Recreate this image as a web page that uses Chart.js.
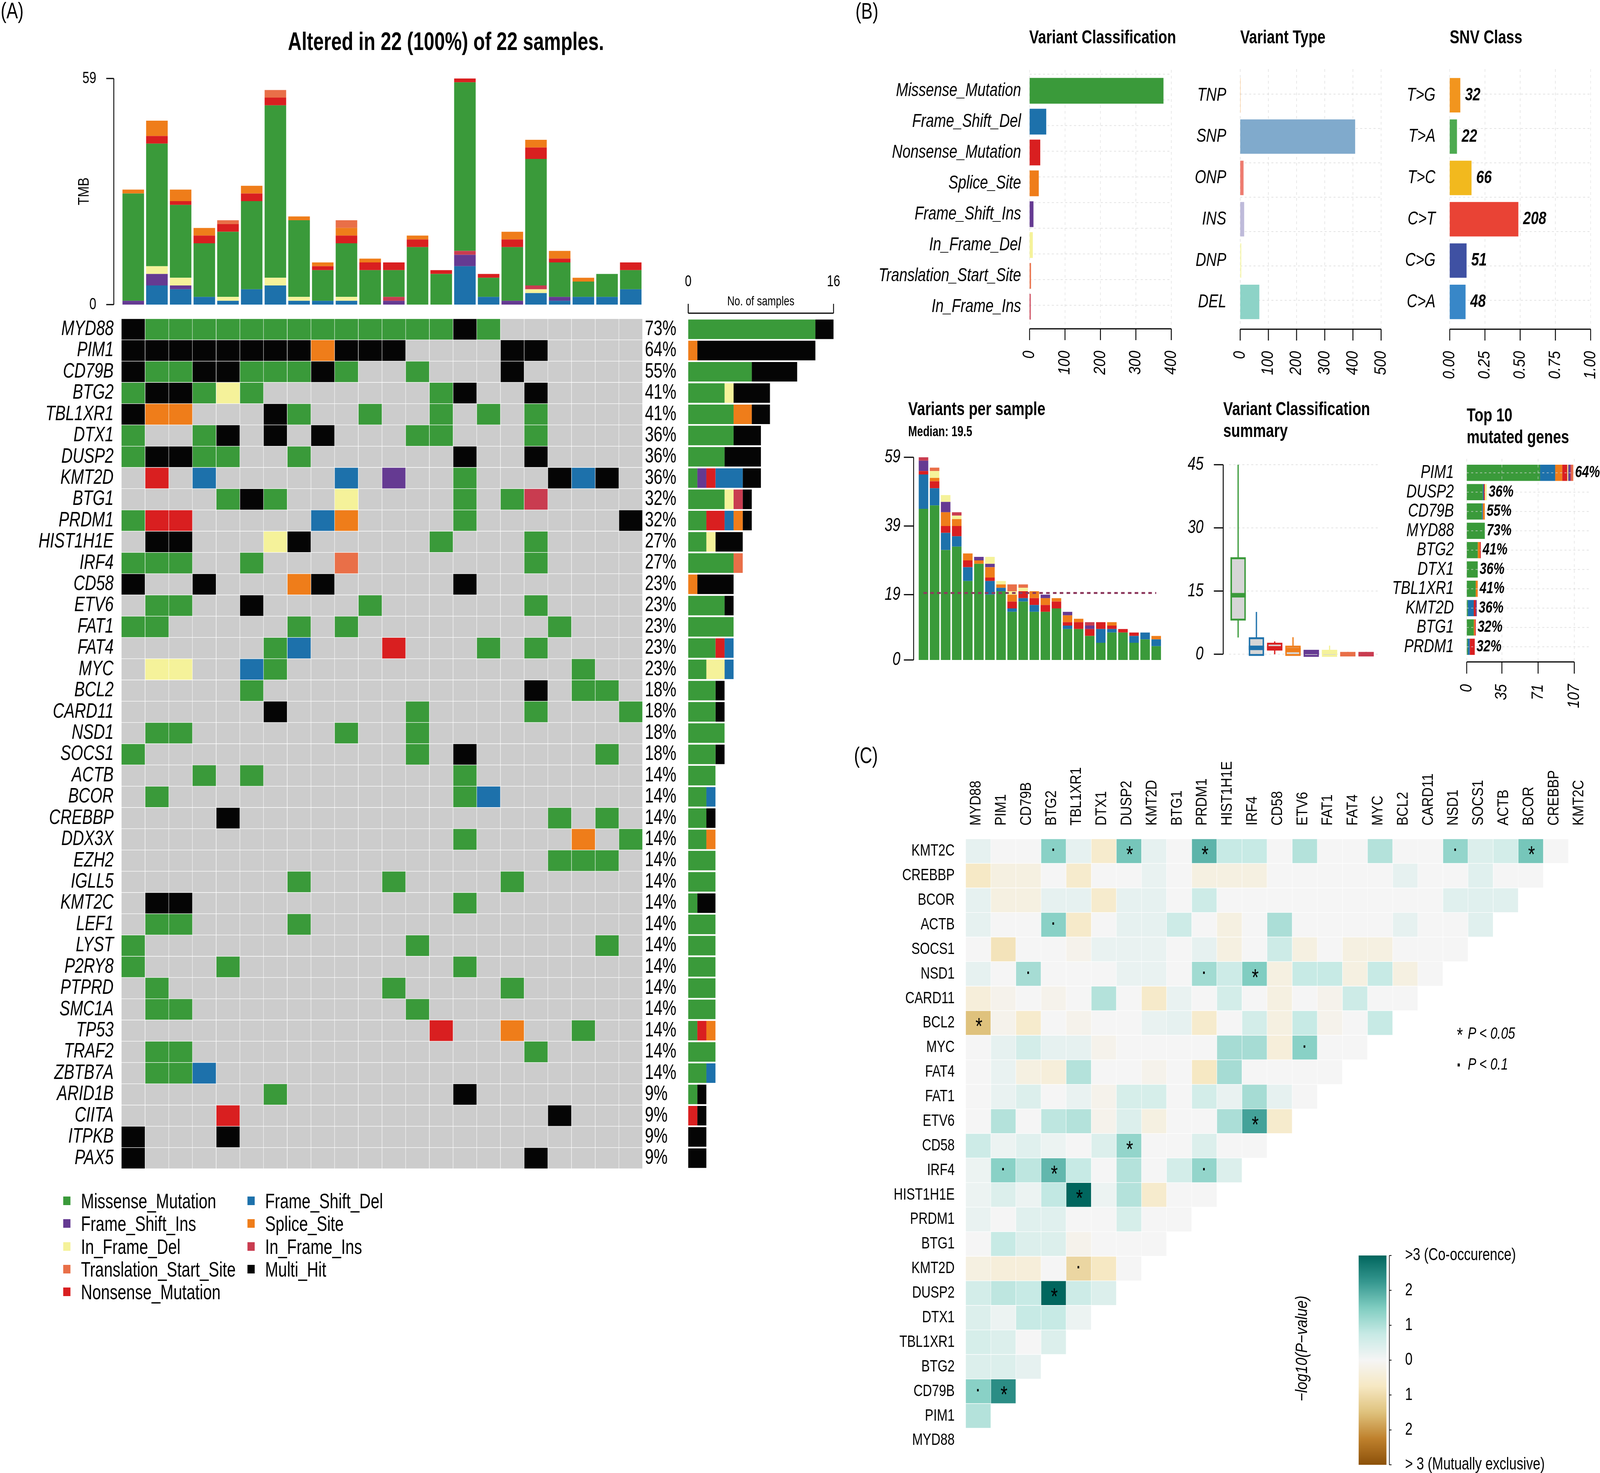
<!DOCTYPE html>
<html>
<head>
<meta charset="utf-8">
<script src="https://cdn.jsdelivr.net/npm/chart.js@4"></script>
<style>
html, body { margin: 0; padding: 0; background: #fff; overflow: hidden; }
#stage { position: absolute; left: 0; top: 0; width: 4429px; height: 3772px; transform-origin: 0 0; }
canvas { position: absolute; transform-origin: 0 0; }
.t { position: absolute; white-space: nowrap; color: #000; font-family: "Liberation Sans"; transform: translateY(-50%) scaleX(0.82); transform-origin: 0 50%; }
.c { transform: translate(-50%, -50%) scaleX(0.82); transform-origin: 50% 50%; }
.r { transform: translate(-50%, -50%) rotate(-90deg) scaleX(0.82); transform-origin: 50% 50%; }
.sq { position: absolute; width: 20px; height: 22px; }
</style>
</head>
<body>
<div id="stage"></div>
<script>
const sans = '"Liberation Sans"'
const SQ = 0.82 // the reference font is a narrow one, so every canvas is squeezed sideways
const sx = v => v / SQ

const genes = ['MYD88', 'PIM1', 'CD79B', 'BTG2', 'TBL1XR1', 'DTX1', 'DUSP2', 'KMT2D', 'BTG1', 'PRDM1', 'HIST1H1E', 'IRF4', 'CD58', 'ETV6', 'FAT1', 'FAT4', 'MYC', 'BCL2', 'CARD11', 'NSD1', 'SOCS1', 'ACTB', 'BCOR', 'CREBBP', 'DDX3X', 'EZH2', 'IGLL5', 'KMT2C', 'LEF1', 'LYST', 'P2RY8', 'PTPRD', 'SMC1A', 'TP53', 'TRAF2', 'ZBTB7A', 'ARID1B', 'CIITA', 'ITPKB', 'PAX5']
const genePct = ['73%', '64%', '55%', '41%', '41%', '36%', '36%', '36%', '32%', '32%', '27%', '27%', '23%', '23%', '23%', '23%', '23%', '18%', '18%', '18%', '18%', '14%', '14%', '14%', '14%', '14%', '14%', '14%', '14%', '14%', '14%', '14%', '14%', '14%', '14%', '14%', '9%', '9%', '9%', '9%']
// M missense, S frame del, I frame ins, Y inframe del, T translation start, N nonsense, P splice, F inframe ins, X multi hit
const onco = [
  'XMMMMMMMMMMMMMXM......',
  'XXXXXXXXPXXX....XX....',
  'XMMXXMMMXM..M...X.....',
  'MXXMYM.......MX..X....',
  'XPP...XM..M..M.M.M....',
  'M..MX.X.X...MM...M....',
  'MXXMM..M......X..X....',
  '.N.S.....S.I..M...XSX.',
  '....MXM..Y....M.MF....',
  'MNN.....SP....M......X',
  '.XX...YX.....M...M....',
  'MMM..M...T.......M....',
  'X..X...PX.....X.......',
  '.MM..X....M......M....',
  'MM.....M.M........M...',
  '......MS...N...M.M....',
  '.YY..SM............M..',
  '.....M...........X.MM.',
  '......X.....M....M...M',
  '.MM......M..M.........',
  'M...........M.X.....M.',
  '...M.M........M.......',
  '.M............MS......',
  '....X.............M.M.',
  '..............M....P.M',
  '..................MMM.',
  '.......M...M....M.....',
  '.XX...........M.......',
  '.MM....M..............',
  'M...........M.......M.',
  'M...M.........M.......',
  '.M.........M....M.....',
  '.MM.........M.........',
  '.............N..P..M..',
  '.MM..............M....',
  '.MMS..................',
  '......M.......X.......',
  '....N.............X...',
  'X...X.................',
  'X................X....',
]
const sampleIds = onco[0].split('').map((_, i) => 'S' + (i + 1))
const colors = { M: '#3A9A3A', S: '#1D71AB', I: '#653A92', Y: '#F5F29A', T: '#E96F48', N: '#D91F20', P: '#EF7D1A', F: '#C93C50', X: '#050505', '.': '#CCCCCC' }

const tmbS = [0, 5, 4, 2, 1, 4, 5, 1, 1, 1, 0, 0, 0, 0, 10, 2, 0, 3, 1, 2, 2, 4]
const tmbI = [1, 3, 1, 0, 0, 0, 0, 0, 0, 0, 0, 1, 0, 0, 3, 0, 1, 0, 1, 0, 0, 0]
const tmbY = [0, 2, 2, 0, 1, 0, 2, 1, 0, 1, 0, 0, 0, 0, 0, 0, 0, 1, 0, 0, 0, 0]
const tmbF = [0, 0, 0, 0, 0, 0, 0, 0, 0, 0, 0, 1, 0, 0, 1, 0, 0, 1, 0, 0, 0, 0]
const tmbM = [28, 32, 19, 14, 17, 23, 45, 20, 8, 14, 9, 7, 15, 8, 44, 5, 14, 33, 9, 4, 6, 5]
const tmbN = [0, 2, 1, 2, 2, 2, 2, 0, 1, 2, 2, 2, 2, 1, 1, 1, 2, 3, 1, 0, 0, 2]
const tmbP = [1, 4, 3, 2, 0, 2, 0, 1, 1, 2, 1, 0, 1, 0, 0, 0, 2, 2, 2, 1, 0, 0]
const tmbT = [0, 0, 0, 0, 1, 0, 2, 0, 0, 2, 0, 0, 0, 0, 0, 0, 0, 0, 0, 0, 0, 0]
const tmbTicks = [0, 59]
const sideOrder = ['M', 'I', 'Y', 'T', 'N', 'S', 'P', 'F', 'X']
const sideTicks = [0, 16]

const vcNames = ['Missense_Mutation', 'Frame_Shift_Del', 'Nonsense_Mutation', 'Splice_Site', 'Frame_Shift_Ins', 'In_Frame_Del', 'Translation_Start_Site', 'In_Frame_Ins']
const vcCodes = ['M', 'S', 'N', 'P', 'I', 'Y', 'T', 'F']
const vcCounts = [378, 47, 30, 26, 11, 9, 4, 3]
const vcTicks = [0, 100, 200, 300, 400]

const vtNames = ['TNP', 'SNP', 'ONP', 'INS', 'DNP', 'DEL']
const vtCounts = [1, 408, 12, 14, 4, 68]
const vtColors = ['#FDB462', '#80AACC', '#EE7C70', '#BEBADA', '#F7F7B0', '#8DD3C7']
const vtTicks = [0, 100, 200, 300, 400, 500]

const snvNames = ['T>G', 'T>A', 'T>C', 'C>T', 'C>G', 'C>A']
const snvCounts = [32, 22, 66, 208, 51, 48]
const snvColors = ['#F2951E', '#4DAA50', '#F2B91E', '#E94335', '#3F51A3', '#3887C8']
const snvTicks = [0, 0.25, 0.5, 0.75, 1]

const perM = [44, 45, 32, 33, 23, 28, 19, 20, 14, 17, 14, 14, 15, 9, 9, 7, 5, 8, 8, 5, 6, 4]
const perS = [10, 5, 5, 3, 4, 0, 4, 1, 1, 1, 2, 0, 0, 1, 0, 0, 4, 1, 0, 2, 2, 2]
const perN = [1, 2, 2, 3, 2, 0, 1, 0, 2, 2, 2, 2, 2, 1, 2, 2, 2, 1, 1, 1, 0, 0]
const perP = [0, 1, 4, 2, 2, 1, 3, 1, 2, 0, 2, 2, 1, 2, 1, 0, 0, 1, 0, 0, 0, 1]
const perI = [3, 0, 3, 0, 0, 1, 1, 0, 0, 0, 0, 1, 0, 1, 0, 1, 0, 0, 0, 0, 0, 0]
const perY = [0, 2, 2, 1, 0, 0, 2, 1, 1, 1, 0, 0, 0, 0, 0, 0, 0, 0, 0, 0, 0, 0]
const perT = [0, 1, 0, 0, 0, 0, 0, 0, 2, 1, 0, 0, 0, 0, 0, 0, 0, 0, 0, 0, 0, 0]
const perF = [1, 0, 0, 1, 0, 0, 0, 0, 0, 0, 0, 0, 0, 0, 0, 1, 0, 0, 0, 0, 0, 0]
const perMedian = 19.5
const perTicks = [0, 19, 39, 59]

const boxWhiskLo = [4, 0, 0, 0, 0, 0, 0, 0]
const boxWhiskHi = [45, 10, 3, 4, 1, 2, 0.5, 0.5]
const boxQ1 = [8, -0.4, 0.9, -0.4, -0.6, -0.6, -0.5, -0.5]
const boxQ3 = [23, 4, 2.7, 2, 1, 1, 0.5, 0.5]
const boxMed = [14, 1.5, 1.4, 1, 0.5, 0.5, 0, 0]
const boxTicks = [0, 15, 30, 45]

const topGenes = ['PIM1', 'DUSP2', 'CD79B', 'MYD88', 'BTG2', 'DTX1', 'TBL1XR1', 'KMT2D', 'BTG1', 'PRDM1']
const topPct = ['64%', '36%', '55%', '73%', '41%', '36%', '41%', '36%', '32%', '32%']
const topM = [73, 16, 15, 18, 11, 11, 9, 1, 7, 1]
const topS = [15, 1, 1, 0, 0, 0, 0, 6, 0, 2]
const topP = [7, 0, 2, 0, 2, 0, 2, 0, 1, 0]
const topN = [5, 1, 0, 0, 1, 0, 0, 2, 1, 5]
const topY = [1, 2, 0, 0, 0, 0, 0, 0, 0, 0]
const topI = [2, 0, 0, 0, 0, 0, 0, 1, 0, 0]
const topF = [1, 0, 0, 0, 0, 0, 0, 0, 0, 0]
const topT = [2, 0, 0, 0, 0, 0, 0, 0, 0, 0]
const topTicks = [0, 35, 71, 107]

const heatCols = ['MYD88', 'PIM1', 'CD79B', 'BTG2', 'TBL1XR1', 'DTX1', 'DUSP2', 'KMT2D', 'BTG1', 'PRDM1', 'HIST1H1E', 'IRF4', 'CD58', 'ETV6', 'FAT1', 'FAT4', 'MYC', 'BCL2', 'CARD11', 'NSD1', 'SOCS1', 'ACTB', 'BCOR', 'CREBBP', 'KMT2C']
const heatRows = ['KMT2C', 'CREBBP', 'BCOR', 'ACTB', 'SOCS1', 'NSD1', 'CARD11', 'BCL2', 'MYC', 'FAT4', 'FAT1', 'ETV6', 'CD58', 'IRF4', 'HIST1H1E', 'PRDM1', 'BTG1', 'KMT2D', 'DUSP2', 'DTX1', 'TBL1XR1', 'BTG2', 'CD79B', 'PIM1', 'MYD88']
// -log10(p), positive co-occurence, negative mutually exclusive
const heatVals = [
  [.25, 0, 0, 1.4, .25, -.6, 1.6, .25, 0, 1.85, .75, .75, 0, .95, 0, 0, .95, 0, 0, 1.3, .4, .55, 1.6, 0],
  [-.7, -.3, -.3, 0, -.6, 0, 0, .2, 0, -.3, -.3, -.3, 0, 0, 0, 0, 0, .25, 0, 0, .35, 0, 0],
  [.25, -.3, -.3, .25, .25, -.6, .25, .25, 0, .65, 0, 0, 0, 0, 0, 0, 0, 0, 0, .35, .35, .35],
  [.25, 0, 0, 1.4, -.65, 0, .25, .25, .65, 0, -.3, 0, 1.05, 0, 0, 0, 0, .25, 0, 0, .35],
  [0, -.85, 0, 0, -.15, .2, .2, .2, 0, .25, -.3, 0, .65, -.3, 0, -.3, -.3, 0, 0, 0],
  [.25, 0, 1.1, 0, 0, 0, .2, .2, 0, 1.15, .65, 1.5, -.3, .75, .75, -.3, .75, -.3, 0],
  [-.4, -.15, 0, -.15, 0, .95, 0, -.65, .2, 0, .55, 0, -.3, 0, -.15, .65, 0, 0],
  [-1.5, -.15, -.6, 0, -.15, 0, 0, .2, .25, -.6, 0, .55, -.3, .75, -.15, 0, .75],
  [0, .25, .55, .25, .25, -.15, 0, 0, 0, 0, 1.1, 1.1, -.4, 1.4, 0, 0],
  [0, .2, -.3, -.4, .95, 0, 0, -.15, 0, -.75, 1.1, 0, 0, 0, 0],
  [0, .2, .4, 0, .2, -.15, .5, .5, 0, .55, .2, 1.1, .25, 0],
  [0, .95, 0, .85, .95, -.15, .4, -.3, 0, 0, 1.05, 2.1, -.6],
  [.65, .15, .35, .15, 0, .4, 1.3, 0, 0, .4, 0, 0],
  [.15, 1.4, .85, 1.8, .75, 0, .95, 0, .55, 1.3, .4],
  [.15, .4, .15, .8, 3, .15, .95, -.6, 0, 0],
  [.2, 0, .35, .35, 0, 0, .5, 0, 0],
  [0, .75, .4, .4, -.15, 0, 0, 0],
  [-.3, -.4, -.4, 0, -1.1, -.75, 0],
  [.55, .85, .75, 3, .65, .4],
  [.4, .15, .75, .75, .15],
  [.5, .4, 0, .4],
  [.4, .4, .25],
  [1.4, 2.4],
  [.95],
  [],
]
// s star P<0.05, d dot P<0.1
const heatSig = [
  '...d..s..s.........d..s.', '', '', '...d', '', '..d......d.s', '', 's', '.............d', '', '',
  '...........s', '......s', '.d.s.....d', '....s', '', '', '....d', '...s', '', '', '', 'ds', '', '',
]
const heatStops = [[-3, '#8C510A'], [-2.25, '#BF812D'], [-1.5, '#DFC27D'], [-.75, '#F6E8C3'], [0, '#F5F5F5'], [.75, '#C7EAE5'], [1.5, '#80CDC1'], [2.25, '#35978F'], [3, '#01665E']]
const barTicks = [-3, -2, -1, 0, 1, 2, 3]
const barTickText = ['> 3 (Mutually exclusive)', '2', '1', '0', '1', '2', '>3 (Co-occurence)']

const legendCol1 = [['Missense_Mutation', 'M'], ['Frame_Shift_Ins', 'I'], ['In_Frame_Del', 'Y'], ['Translation_Start_Site', 'T'], ['Nonsense_Mutation', 'N']]
const legendCol2 = [['Frame_Shift_Del', 'S'], ['Splice_Site', 'P'], ['In_Frame_Ins', 'F'], ['Multi_Hit', 'X']]

// the window is narrower than the reference, fit the whole width into it
const stage = document.getElementById('stage')
stage.style.transform = `scaleX(${Math.min(1, window.innerWidth / 4429)})`

function hexRgb(h) {
  return [1, 3, 5].map(i => parseInt(h.substr(i, 2), 16))
}

function heatColor(v) {
  for (let i = 1; i < heatStops.length; i++) {
    if (v <= heatStops[i][0]) {
      const f = (v - heatStops[i - 1][0]) / (heatStops[i][0] - heatStops[i - 1][0])
      const a = hexRgb(heatStops[i - 1][1])
      const b = hexRgb(heatStops[i][1])
      return `rgb(${a.map((c, k) => Math.round(c + (b[k] - c) * f)).join(',')})`
    }
  }
  return heatStops[heatStops.length - 1][1]
}

function label(text, x, y, size, extra, cls) {
  const d = document.createElement('div')
  d.className = 't ' + (cls || '')
  d.textContent = text
  d.style.cssText = `left:${x}px;top:${y}px;font-size:${size}px;${extra || ''}`
  stage.appendChild(d)
}

const fixedTicks = list => s => { s.ticks = list.map(value => ({ value })) }

function drawGrids(chart, deco) {
  const ctx = chart.ctx
  const a = chart.chartArea
  ctx.save()
  ctx.strokeStyle = 'rgba(215,215,215,0.7)'
  ctx.lineWidth = 2
  ctx.setLineDash([7, 8])
  if (deco.vgrid) {
    const s = chart.scales[deco.vgrid.id]
    s.ticks.forEach(t => {
      const x = s.getPixelForValue(t.value)
      ctx.beginPath()
      ctx.moveTo(x, a.top - deco.vgrid.above)
      ctx.lineTo(x, a.bottom + deco.vgrid.below)
      ctx.stroke()
    })
  }
  if (deco.hgrid) {
    const g = deco.hgrid
    const ys = g.id ? chart.scales[g.id].ticks.map(t => chart.scales[g.id].getPixelForValue(t.value))
      : Array.from({ length: g.n }, (_, i) => a.top + g.from + i * g.step)
    ys.forEach(y => {
      ctx.beginPath()
      ctx.moveTo(a.left, y)
      ctx.lineTo(a.right + sx(g.right), y)
      ctx.stroke()
    })
  }
  ctx.restore()
}

// upright tick labels turned on their side: narrow along the text, not across it
function drawRotated(chart, r) {
  const ctx = chart.ctx
  const s = chart.scales[r.id]
  const a = chart.chartArea
  const base = r.side === 'top' ? a.top - r.pad : a.bottom + r.pad
  ctx.save()
  ctx.fillStyle = '#000'
  ctx.font = r.font
  ctx.textBaseline = 'middle'
  ctx.textAlign = r.side === 'top' ? 'left' : 'right'
  s.ticks.forEach((t, i) => {
    ctx.save()
    ctx.translate(s.getPixelForTick(i) + sx(r.dx || 0), base)
    ctx.scale(1 / SQ, SQ)
    ctx.rotate(-Math.PI / 2)
    ctx.fillText(String(t.label), 0, 0)
    ctx.restore()
  })
  ctx.restore()
}

// R style axes and dotted grids, drawn off the chart's own scales
function rDeco(deco) {
  return {
    id: 'rDeco',
    beforeDatasetsDraw(chart) {
      if (deco.under) drawGrids(chart, deco)
    },
    afterDatasetsDraw(chart) {
      if (!deco.under) drawGrids(chart, deco)
    },
    afterDraw(chart) {
      const ctx = chart.ctx
      const a = chart.chartArea
      ctx.save()
      ctx.strokeStyle = '#000'
      ;(deco.axes || []).forEach(ax => {
        const s = chart.scales[ax.id]
        const px = s.ticks.map(t => s.getPixelForValue(t.value))
        ctx.lineWidth = ax.lw
        ctx.beginPath()
        if (ax.side === 'left' || ax.side === 'right') {
          const x = ax.side === 'left' ? a.left - sx(ax.gap) : a.right + sx(ax.gap)
          const d = ax.side === 'left' ? -sx(ax.len) : sx(ax.len)
          ctx.moveTo(x, Math.min(...px))
          ctx.lineTo(x, Math.max(...px))
          px.forEach(p => { ctx.moveTo(x, p); ctx.lineTo(x + d, p) })
        } else {
          const y = ax.side === 'bottom' ? a.bottom + ax.gap : a.top - ax.gap
          const d = ax.side === 'bottom' ? ax.len : -ax.len
          ctx.moveTo(Math.min(...px), y)
          ctx.lineTo(Math.max(...px), y)
          px.forEach(p => { ctx.moveTo(p, y); ctx.lineTo(p, y + d) })
        }
        ctx.stroke()
      })
      ctx.restore()
      if (deco.rotated) drawRotated(chart, deco.rotated)
      if (deco.after) deco.after(chart, ctx)
    },
  }
}

// box is the plot rectangle on the page, m the room round it [left, top, right, bottom]
function addChart(box, config, deco) {
  const m = box.m
  const c = document.createElement('canvas')
  c.width = Math.round(sx(box.x1 - box.x0 + m[0] + m[2]))
  c.height = box.y1 - box.y0 + m[1] + m[3]
  c.style.left = box.x0 - m[0] + 'px'
  c.style.top = box.y0 - m[1] + 'px'
  c.style.transform = `scaleX(${SQ})`
  stage.appendChild(c)
  const room = { left: sx(m[0]), top: m[1], right: sx(m[2]), bottom: m[3] }
  const padding = Object.assign({}, room)
  Object.entries(config.options.scales).forEach(([id, sc]) => {
    if (sc.display === false) return
    const pos = sc.position || (id[0] === 'x' ? 'bottom' : 'left')
    padding[pos] = 0
    sc.afterFit = s => {
      if (s.isHorizontal()) s.height = room[pos]
      else s.width = room[pos]
      s.paddingLeft = s.paddingRight = s.paddingTop = s.paddingBottom = 0
    }
    sc.grid = { display: false }
    sc.border = { display: false }
  })
  config.options = Object.assign({
    responsive: false,
    animation: false,
    devicePixelRatio: 1,
    layout: { padding },
    plugins: { legend: { display: false }, tooltip: { enabled: false } },
  }, config.options)
  config.plugins = [rDeco(deco || {})]
  return new Chart(c, config)
}

Chart.defaults.color = '#000'
Chart.defaults.font.family = sans

const italic = size => ({ family: sans, size, style: 'italic' })
const bold = 'font-weight:bold'

// panel labels and titles
label('(A)', 2, 26, 58)
label('(B)', 2368, 27, 58)
label('(C)', 2364, 1933, 58)
label('Altered in 22 (100%) of 22 samples.', 797, 106, 64, bold)
label('TMB', 232, 490, 41, '', 'r')
label('No. of samples', 2106, 770, 34, '', 'c')
label('Variant Classification', 2849, 94, 49, bold)
label('Variant Type', 3433, 94, 49, bold)
label('SNV Class', 4013, 94, 49, bold)
label('Variants per sample', 2514, 1046, 49, bold)
label('Median: 19.5', 2514, 1105, 36, bold)
label('Variant Classification', 3386, 1046, 49, bold)
label('summary', 3386, 1102, 49, bold)
label('Top 10', 4060, 1062, 49, bold)
label('mutated genes', 4060, 1118, 49, bold)
label('*', 4031, 2650, 52, 'font-style:italic')
label('P < 0.05', 4063, 2645, 43, 'font-style:italic')
label('\u00B7', 4032, 2726, 52, bold)
label('P < 0.1', 4063, 2724, 43, 'font-style:italic')
label('\u2212log10(P\u2212value)', 3603, 3453, 45, 'font-style:italic', 'r')

function legendColumn(items, sqX, textX) {
  items.forEach(([name, code], i) => {
    const y = 3075 + i * 58.3
    const s = document.createElement('div')
    s.className = 'sq'
    s.style.cssText = `left:${sqX}px;top:${y - 11}px;background:${colors[code]}`
    stage.appendChild(s)
    label(name, textX, y, 53)
  })
}
legendColumn(legendCol1, 175, 224)
legendColumn(legendCol2, 685, 734)

// TMB bars over the oncoplot
const tmbSeries = [[tmbS, 'S'], [tmbI, 'I'], [tmbY, 'Y'], [tmbF, 'F'], [tmbM, 'M'], [tmbN, 'N'], [tmbP, 'P'], [tmbT, 'T']]
addChart({ x0: 336, x1: 1779, y0: 201, y1: 780, m: [120, 30, 10, 30] }, {
  type: 'bar',
  data: {
    labels: sampleIds,
    datasets: tmbSeries.map(([d, c]) => ({ data: d, backgroundColor: colors[c], barPercentage: 0.91, categoryPercentage: 1 })),
  },
  options: {
    scales: {
      x: { stacked: true, display: false },
      y: {
        stacked: true, min: 0, max: 59, afterBuildTicks: fixedTicks(tmbTicks),
        ticks: { font: { size: 42 }, padding: sx(63) },
      },
    },
  },
}, { axes: [{ id: 'y', side: 'left', gap: 21, len: 21, lw: 3 }] })

// oncoplot: one stacked unit per sample in every gene row
addChart({ x0: 336, x1: 1779, y0: 816, y1: 2993, m: [330, 4, 110, 4] }, {
  type: 'bar',
  data: {
    labels: genes,
    datasets: sampleIds.map((_, c) => ({
      data: genes.map(() => 1),
      backgroundColor: genes.map((g, r) => colors[onco[r][c]]),
      borderColor: '#fff',
      borderWidth: 1,
      borderSkipped: false,
      barPercentage: 1,
      categoryPercentage: 1,
    })),
  },
  options: {
    indexAxis: 'y',
    scales: {
      x: { stacked: true, display: false, min: 0, max: 22 },
      y: {
        stacked: true,
        ticks: { font: italic(53), padding: sx(15), autoSkip: false },
      },
      yPct: {
        type: 'category', labels: genePct, position: 'right',
        ticks: { font: { size: 53 }, padding: 0, autoSkip: false },
      },
    },
  },
})

// samples per gene, by variant class, counted from the oncoplot rows
addChart({ x0: 1905, x1: 2307, y0: 816, y1: 2993, m: [30, 120, 40, 4] }, {
  type: 'bar',
  data: {
    labels: genes,
    datasets: sideOrder.map(code => ({
      data: onco.map(row => row.split(code).length - 1),
      backgroundColor: colors[code],
      barPercentage: 0.92,
      categoryPercentage: 1,
    })),
  },
  options: {
    indexAxis: 'y',
    scales: {
      x: {
        stacked: true, position: 'top', min: 0, max: 16, afterBuildTicks: fixedTicks(sideTicks),
        ticks: { font: { size: 40 }, padding: 62, maxRotation: 0 },
      },
      y: { stacked: true, display: false },
    },
  },
}, { axes: [{ id: 'x', side: 'top', gap: 14, len: 24, lw: 3 }] })

// panel B top row
function hbar(box, names, values, barColors, maxV, ticks, tickFmt, after, gridFrom, gridStep, gridN, labelPad) {
  addChart(box, {
    type: 'bar',
    data: {
      labels: names,
      datasets: [{ data: values, backgroundColor: barColors, barPercentage: 0.833, categoryPercentage: 1 }],
    },
    options: {
      indexAxis: 'y',
      scales: {
        x: {
          min: 0, max: maxV, afterBuildTicks: fixedTicks(ticks),
          ticks: { display: false, callback: tickFmt },
        },
        y: {
          ticks: { font: italic(49), padding: sx(labelPad), autoSkip: false },
        },
      },
    },
  }, {
    under: true,
    axes: [{ id: 'x', side: 'bottom', gap: 17, len: 29, lw: 3 }],
    vgrid: { id: 'x', above: 14, below: 17 },
    hgrid: { from: gridFrom, step: gridStep, n: gridN, right: 0 },
    rotated: { id: 'x', side: 'bottom', pad: 73, font: `italic 45px ${sans}` },
    after,
  })
}

hbar({ x0: 2850, x1: 3242, y0: 193, y1: 825, m: [420, 20, 20, 170] }, vcNames, vcCounts, vcCodes.map(c => colors[c]), 400, vcTicks, v => v, null, -3, 65.75, 10, 17)
hbar({ x0: 3433, x1: 3823, y0: 191, y1: 826, m: [150, 20, 20, 170] }, vtNames, vtCounts, vtColors, 500, vtTicks, v => v, null, 50, 88, 7, 32)

const snvTotal = snvCounts.reduce((a, b) => a + b, 0)
hbar({ x0: 4013, x1: 4403, y0: 191, y1: 826, m: [150, 20, 20, 170] }, snvNames, snvCounts.map(c => c / snvTotal), snvColors, 1, snvTicks, v => v.toFixed(2), (chart, ctx) => {
  const x = chart.scales.x
  const y = chart.scales.y
  ctx.save()
  ctx.font = `italic bold 47px ${sans}`
  ctx.textBaseline = 'middle'
  ctx.fillStyle = '#000'
  snvCounts.forEach((c, i) => ctx.fillText(String(c), x.getPixelForValue(c / snvTotal) + sx(13), y.getPixelForValue(i)))
  ctx.restore()
}, 50, 88, 7, 33)

// variants per sample, sorted
const perSeries = [[perM, 'M'], [perS, 'S'], [perN, 'N'], [perP, 'P'], [perI, 'I'], [perY, 'Y'], [perT, 'T'], [perF, 'F']]
addChart({ x0: 2541, x1: 3216, y0: 1171, y1: 1690, m: [100, 30, 10, 30] }, {
  type: 'bar',
  data: {
    labels: sampleIds,
    datasets: [
      { type: 'line', data: sampleIds.map(() => perMedian), borderColor: '#8E3A5E', borderWidth: 5, borderDash: [12, 11], pointRadius: 0 },
      ...perSeries.map(([d, c]) => ({ data: d, backgroundColor: colors[c], barPercentage: 0.86, categoryPercentage: 1 })),
    ],
  },
  options: {
    scales: {
      x: { stacked: true, display: false },
      y: {
        stacked: true, min: 0, max: 59, afterBuildTicks: fixedTicks(perTicks),
        ticks: { font: italic(48), padding: sx(42) },
      },
    },
  },
}, { axes: [{ id: 'y', side: 'left', gap: 12, len: 27, lw: 3 }] })

// variant classification summary, boxes made of floating bars
const boxColors = vcCodes.map(c => colors[c])
addChart({ x0: 3402, x1: 3807, y0: 1190, y1: 1686, m: [150, 30, 20, 20] }, {
  type: 'bar',
  data: {
    labels: vcNames,
    datasets: [
      { data: boxMed.map(v => [v - 0.5, v + 0.5]), backgroundColor: boxColors, barThickness: sx(42), grouped: false },
      { data: boxQ1.map((q, i) => [q, boxQ3[i]]), backgroundColor: '#D6D6D6', borderColor: boxColors, borderWidth: 5, borderSkipped: false, barThickness: sx(42), grouped: false },
      { data: boxWhiskLo.map((w, i) => [w, boxWhiskHi[i]]), backgroundColor: boxColors, barThickness: sx(3), grouped: false },
    ],
  },
  options: {
    scales: {
      x: { display: false },
      y: {
        min: -1, max: 45, afterBuildTicks: fixedTicks(boxTicks),
        ticks: { font: italic(48), padding: sx(64) },
      },
    },
  },
}, {
  axes: [{ id: 'y', side: 'left', gap: 16, len: 26, lw: 3 }],
  hgrid: { id: 'y', right: 12 },
  under: true,
})

// top 10 genes
const topSeries = [[topM, 'M'], [topS, 'S'], [topP, 'P'], [topN, 'N'], [topY, 'Y'], [topI, 'I'], [topF, 'F'], [topT, 'T']]
addChart({ x0: 4060, x1: 4358, y0: 1186, y1: 1681, m: [220, 20, 71, 170] }, {
  type: 'bar',
  data: {
    labels: topGenes,
    datasets: topSeries.map(([d, c]) => ({ data: d, backgroundColor: colors[c], barPercentage: 0.837, categoryPercentage: 1 })),
  },
  options: {
    indexAxis: 'y',
    scales: {
      x: {
        stacked: true, min: 0, max: 107, afterBuildTicks: fixedTicks(topTicks),
        ticks: { display: false, callback: v => v },
      },
      y: {
        stacked: true,
        ticks: { font: italic(48), padding: sx(29), autoSkip: false },
      },
    },
  },
}, {
  axes: [{ id: 'x', side: 'bottom', gap: 14, len: 30, lw: 3 }],
  vgrid: { id: 'x', above: 11, below: 14 },
  hgrid: { id: 'y', right: 45 },
  rotated: { id: 'x', side: 'bottom', pad: 71, font: `italic 45px ${sans}` },
  after(chart, ctx) {
    const x = chart.scales.x
    const y = chart.scales.y
    ctx.save()
    ctx.font = `italic bold 42px ${sans}`
    ctx.textBaseline = 'middle'
    ctx.fillStyle = '#000'
    topPct.forEach((p, i) => {
      const total = topSeries.reduce((a, [d]) => a + d[i], 0)
      ctx.fillText(p, x.getPixelForValue(total) + sx(5), y.getPixelForValue(i))
    })
    ctx.restore()
  },
})

// co-occurence triangle
addChart({ x0: 2673, x1: 4411, y0: 2148, y1: 3720, m: [300, 220, 15, 20] }, {
  type: 'bar',
  data: {
    labels: heatRows,
    datasets: heatCols.map((_, c) => ({
      data: heatVals.map(row => (c < row.length ? 1 : null)),
      backgroundColor: heatVals.map(row => (c < row.length ? heatColor(row[c]) : 'transparent')),
      borderColor: '#fff',
      borderWidth: 1,
      borderSkipped: false,
      barPercentage: 1,
      categoryPercentage: 1,
    })),
  },
  options: {
    indexAxis: 'y',
    scales: {
      x: { stacked: true, display: false, min: 0, max: 25 },
      xTop: {
        type: 'category', labels: heatCols, position: 'top', offset: true,
        ticks: { display: false },
      },
      y: {
        stacked: true,
        ticks: { font: { size: 43 }, padding: sx(24), autoSkip: false },
      },
    },
  },
}, {
  rotated: { id: 'xTop', side: 'top', pad: 34, dx: -5, font: `42px ${sans}` },
  after(chart, ctx) {
    const x = chart.scales.x
    const y = chart.scales.y
    ctx.save()
    ctx.fillStyle = '#000'
    ctx.textAlign = 'center'
    ctx.textBaseline = 'middle'
    heatSig.forEach((row, r) => {
      row.split('').forEach((mark, c) => {
        if (mark === 's') {
          ctx.font = `italic 60px ${sans}`
          ctx.fillText('*', x.getPixelForValue(c + 0.5), y.getPixelForValue(r) + 12)
        } else if (mark === 'd') {
          ctx.font = `bold 40px ${sans}`
          ctx.fillText('\u00B7', x.getPixelForValue(c + 0.5), y.getPixelForValue(r))
        }
      })
    })
    ctx.restore()
  },
})

// colour bar, a single floating bar with the legend ramp
addChart({ x0: 3761, x1: 3838, y0: 3215, y1: 3751, m: [5, 30, 520, 21] }, {
  type: 'bar',
  data: {
    labels: ['ramp'],
    datasets: [{
      data: [[-3, 3]],
      backgroundColor(c) {
        const a = c.chart.chartArea
        if (!a) return '#ccc'
        const g = c.chart.ctx.createLinearGradient(0, a.bottom, 0, a.top)
        heatStops.forEach(([v, col]) => g.addColorStop((v + 3) / 6, col))
        return g
      },
      barPercentage: 1,
      categoryPercentage: 1,
    }],
  },
  options: {
    scales: {
      x: { display: false },
      y: {
        position: 'right', min: -3, max: 3, afterBuildTicks: fixedTicks(barTicks),
        ticks: { font: { size: 45 }, padding: sx(45), callback: v => barTickText[barTicks.indexOf(v)] },
      },
    },
  },
}, { axes: [{ id: 'y', side: 'right', gap: 8, len: 6, lw: 2 }] })
</script>
</body>
</html>
